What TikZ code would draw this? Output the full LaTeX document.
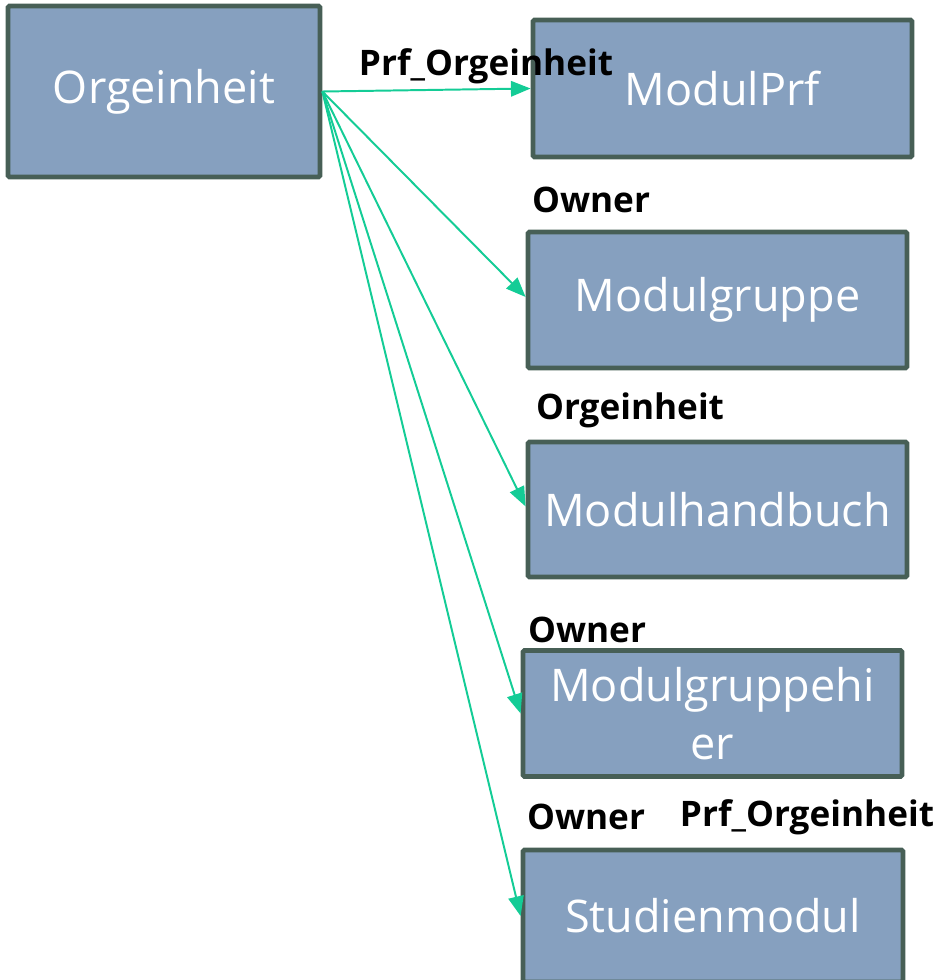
\documentclass[tikz,border=0pt]{standalone}
\usepackage{fontspec}
\setmainfont{Open Sans}
\usetikzlibrary{arrows.meta}
\definecolor{boxfill}{HTML}{86A0BF}
\definecolor{boxline}{HTML}{475F56}
\definecolor{relgreen}{HTML}{14CC96}
\tikzset{
	tabelle/.style={draw=boxline, fill=boxfill, line width=3.4pt, rounded corners=1pt,
		text=white, font=\fontsize{32}{41}\selectfont, align=center, inner sep=0pt},
	rel/.style={draw=relgreen, line width=1.4pt, -{Triangle[length=14pt, width=11pt]}},
	relname/.style={font=\fontsize{25}{29}\selectfont\bfseries, text=black, inner sep=0pt}
}
\begin{document}
\begin{tikzpicture}[x=0.025cm, y=-0.025cm]
	\useasboundingbox (0,0) rectangle (940,980);

	%tabellen
	\node[tabelle, minimum width=312*0.025cm, minimum height=171*0.025cm] (org) at (164, 91.5) {Orgeinheit};
	\node[tabelle, minimum width=379*0.025cm, minimum height=137*0.025cm] (prf) at (722.5, 88.5) {ModulPrf};
	\node[tabelle, minimum width=379*0.025cm, minimum height=136*0.025cm] (gruppe) at (717.5, 300) {Modulgruppe};
	\node[tabelle, minimum width=379*0.025cm, minimum height=135*0.025cm] (handbuch) at (717.5, 509.5) {Modulhandbuch};
	\node[tabelle, minimum width=379*0.025cm, minimum height=126*0.025cm] (hier) at (712.5, 713.5) {Modulgruppehi\\er};
	\node[tabelle, minimum width=380*0.025cm, minimum height=132*0.025cm] (studien) at (713, 916) {Studienmodul};

	%beziehungen
	\draw[rel] (org.east) -- (prf.west);
	\draw[rel] (org.east) -- ([yshift=3*0.025cm]gruppe.west);
	\draw[rel] (org.east) -- ([yshift=3*0.025cm]handbuch.west);
	\draw[rel] (org.east) -- (hier.west);
	\draw[rel] (org.east) -- (studien.west);

	%namen
	\node[relname] (n1) at (486, 66) {Prf\_Orgeinheit};
	\node[relname] (n2) at (591, 200) {Owner};
	\node[relname] (n3) at (630, 410) {Orgeinheit};
	\node[relname] (n4) at (587, 630) {Owner};
	\node[relname] (n5) at (586, 817) {Owner};
	\node[relname] (n6) at (807, 817) {Prf\_Orgeinheit};
\end{tikzpicture}
\end{document}
